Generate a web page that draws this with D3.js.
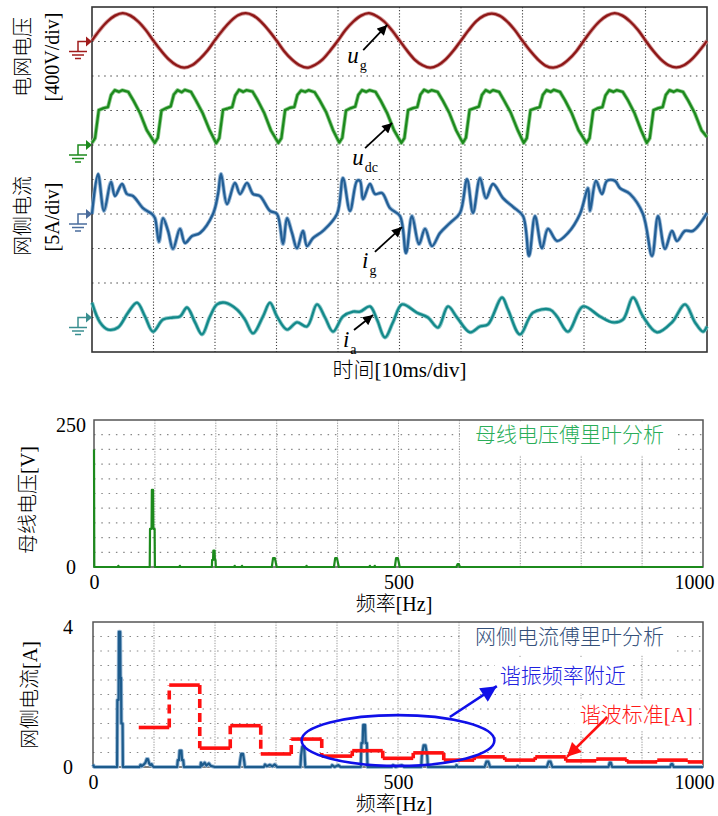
<!DOCTYPE html>
<html>
<head>
<meta charset="utf-8">
<script src="https://cdn.jsdelivr.net/npm/d3@7"></script>
<style>
  body { margin: 0; background: #fff; }
  text { font-family: "Liberation Serif", "Noto Sans CJK SC", serif; }
  .cjk { font-weight: 300; }
</style>
</head>
<body>
<div id="chart"></div>
<script>
// ---------- data ----------
// scope traces: time in ms, value in divisions (relative to each trace's ground marker)
const uGStep = 1.25;
const uG = [
  0.03,0.33,0.58,0.75,0.82,0.75,0.58,0.33,0.02,-0.27,-0.52,-0.69,-0.76,-0.69,-0.51,-0.27,
  0.04,0.33,0.58,0.76,0.82,0.75,0.57,0.32,0.03,-0.28,-0.52,-0.69,-0.76,-0.68,-0.52,-0.26,
  0.03,0.34,0.58,0.75,0.82,0.74,0.58,0.33,0.03,-0.27,-0.53,-0.69,-0.76,-0.69,-0.52,-0.27,
  0.03,0.33,0.59,0.75,0.81,0.75,0.58,0.33,0.02,-0.27,-0.52,-0.70,-0.76,-0.69,-0.52,-0.28,
  0.03,0.33,0.58,0.75,0.82,0.75,0.58,0.34,0.03,-0.27,-0.52,-0.69,-0.75,-0.69,-0.52,-0.27,
  0.02
];

const uDc = [
  [0,0.06],[0.5,0.2],[1.1,1.01],[1.9,1.07],[2.6,1.10],[3.1,1.45],[3.7,1.59],[4.4,1.54],[4.9,1.59],[5.9,1.54],[6.7,1.30],[7.8,0.93],[8.9,0.43],
  [10.2,0.06],[10.7,0.21],[11.3,1.00],[12.1,1.07],[12.8,1.12],[13.3,1.46],[13.9,1.59],[14.6,1.53],[15.1,1.60],[16.1,1.54],[16.9,1.29],[18.0,0.92],[19.1,0.44],
  [20.2,0.05],[20.7,0.2],[21.3,1.02],[22.1,1.06],[22.8,1.10],[23.3,1.44],[23.9,1.60],[24.6,1.54],[25.1,1.59],[26.1,1.55],[26.9,1.31],[28.0,0.93],[29.1,0.42],
  [30.3,0.06],[30.8,0.2],[31.4,1.01],[32.2,1.08],[32.9,1.10],[33.4,1.45],[34.0,1.58],[34.7,1.54],[35.2,1.59],[36.2,1.53],[37.0,1.30],[38.1,0.94],[39.2,0.43],
  [40.2,0.07],[40.7,0.21],[41.3,1.00],[42.1,1.07],[42.8,1.11],[43.3,1.45],[43.9,1.59],[44.6,1.54],[45.1,1.59],[46.1,1.54],[46.9,1.30],[48.0,0.92],[49.1,0.43],
  [50.3,0.06],[50.8,0.2],[51.4,1.01],[52.2,1.07],[52.9,1.10],[53.4,1.46],[54.0,1.60],[54.7,1.54],[55.2,1.59],[56.2,1.54],[57.0,1.30],[58.1,0.93],[59.2,0.43],
  [60.3,0.06],[60.8,0.21],[61.4,1.02],[62.2,1.07],[62.9,1.11],[63.4,1.45],[64.0,1.59],[64.7,1.53],[65.2,1.59],[66.2,1.54],[67.0,1.29],[68.1,0.93],[69.2,0.44],
  [70.2,0.06],[70.7,0.2],[71.3,1.01],[72.1,1.06],[72.8,1.10],[73.3,1.45],[73.9,1.59],[74.6,1.54],[75.1,1.60],[76.1,1.54],[76.9,1.30],[78.0,0.92],[79.1,0.43],
  [80.4,0.06],[80.9,0.2],[81.5,1.00],[82.3,1.07],[83.0,1.10],[83.5,1.44],[84.1,1.59],[84.8,1.54],[85.3,1.59],[86.3,1.54],[87.1,1.31],[88.2,0.93],[89.3,0.42],
  [90.2,0.06],[90.7,0.2],[91.3,1.01],[92.1,1.07],[92.8,1.10],[93.3,1.45],[93.9,1.59],[94.6,1.54],[95.1,1.59],[96.1,1.54],[96.9,1.30],[98.0,0.93],[99.1,0.43],
  [100,0.23]
];

const iG = [
  [0,0],[0.98,1.16],[1.95,0.09],[3.09,0.93],[3.74,0.52],[4.88,0.87],[5.69,0.58],[6.67,0.52],[8.29,0.17],[9.76,0],
  [10.24,-0.12],[10.89,-0.81],[11.54,-0.12],[12.36,-0.49],[13.17,-1.01],[14.31,-0.43],[15.12,-0.84],[16.26,-0.64],[17.56,-0.55],[19.67,0],
  [20.49,0.58],[20.98,1.16],[21.95,0.29],[23.25,0.90],[24.07,0.58],[25.2,0.90],[26.18,0.58],[27.32,0.52],[28.94,0.09],[30.08,0],
  [31.06,-0.87],[31.71,-0.12],[32.52,-0.55],[33.33,-0.99],[34.31,-0.49],[34.96,-0.93],[35.93,-0.70],[37.56,-0.49],[39.84,0],
  [40.81,1.04],[41.95,0.09],[43.09,0.96],[43.58,0.96],[44.07,0.43],[45.2,0.87],[46.02,0.58],[47.15,0.61],[48.46,0.17],
  [50.08,-0.06],[51.06,-1.13],[52.03,-0.06],[53.17,-0.87],[54.15,-0.43],[55.28,-0.93],[56.59,-0.55],[58.21,-0.26],[59.84,0.03],
  [60.98,1.01],[61.95,0.03],[63.09,1.04],[64.07,0.46],[65.2,0.87],[66.83,0.46],[68.5,0.2],[70.08,-0.06],
  [71.06,-1.22],[72.03,-0.06],[73.17,-0.99],[74.15,-0.43],[75.61,-0.78],[77.4,-0.55],[79.35,0],
  [80.65,0.75],[80.98,0.09],[81.95,0.96],[82.93,0.58],[83.74,0.96],[85.04,0.96],[85.85,0.75],[87.48,0.58],[89.59,0],
  [91.06,-1.22],[92.03,-0.06],[93.17,-1.01],[94.31,-0.49],[95.12,-0.78],[96.42,-0.49],[97.72,-0.49],[100,0.03]
];

const iA = [
  [0,0.43],[1.3,-0.14],[2.6,-0.35],[4.23,-0.29],[5.85,0.14],[7.32,0.43],[8.62,0.03],[9.92,-0.41],[11.54,-0.06],[13.17,0],
  [14.31,0.03],[15.45,0.29],[16.75,-0.14],[17.89,-0.49],[19.19,0.03],[20.33,0.38],[21.63,0.43],[23.58,0.23],[24.88,-0.06],[26.18,-0.46],
  [27.8,0.03],[28.94,0.43],[30.08,0.03],[31.71,-0.35],[33.33,-0.14],[34.96,-0.26],[36.59,0.38],[37.89,0],[39.19,-0.41],[40.81,0.03],
  [42.44,0.17],[43.58,0.17],[45.2,0.32],[46.34,-0.06],[47.64,-0.58],[48.94,-0.14],[50.41,0.38],[52.85,0.14],[54.63,0],[56.26,-0.29],
  [57.89,0.32],[59.35,0],[61.46,-0.43],[63.09,-0.26],[64.39,-0.2],[66.67,0.58],[67.64,0.23],[69.59,-0.49],[71.71,0.14],[74.47,0.23],
  [75.61,0.03],[77.4,-0.41],[79.84,0.32],[82.6,0.03],[84.72,-0.14],[86.34,-0.06],[87.97,0.58],[89.59,0.03],[91.87,-0.43],[94.31,-0.14],
  [96.42,0.38],[98.05,-0.14],[99.35,-0.41],[100,-0.26]
];

// DC-bus voltage spectrum: [Hz, V]
const busSpectrum = [
  [0,200],[0.5,0],[39,0],[40,2],[41,0],
  [91.5,0],[92,65],[94.5,65],[95,131],[97,131],[97.5,65],[99.5,65],[100,0],
  [140,0],[141,2],[142,0],
  [193.5,0],[194,12],[195.5,12],[196,28],[198,28],[198.5,12],[199.5,12],[200,0],
  [230,0],[231,2],[232,0],[242,0],[243,2],[244,0],
  [292,0],[294,15],[297,15],[300,0],
  [348,0],[349,2],[350,0],
  [394,0],[396,15],[399,15],[402,0],
  [452,0],[453,2],[454,0],[460,0],[461,2],[462,0],
  [494,0],[496,15],[499,15],[502,0],
  [595,0],[597,5],[599,5],[601,0],
  [1000,0]
];

// grid current spectrum: [Hz, A]
const gridSpectrum = [
  [0,0.07],[2,0],[39.5,0],[40,1.85],[42,1.85],[42.5,3.73],[44.5,3.73],[45,2.46],[46,2.46],[46.5,1.2],[48.5,1.2],[49,0],
  [76,0],[78,0.06],[80,0.02],[84,0.08],[86,0.12],[88,0.22],[90,0.22],[92,0.1],[94,0.05],[96,0.08],[98,0.02],[100,0],
  [138,0],[139,0.19],[141,0.19],[142,0.45],[145,0.45],[146,0.19],[148,0.19],[149,0],
  [176,0],[177,0.12],[179,0.04],[183,0.12],[186,0.04],[190,0.1],[193,0.03],[200,0],
  [240,0],[241,0.15],[243,0.36],[246,0.36],[248,0.15],[249,0],
  [280,0],[282,0.07],[285,0.02],[290,0.06],[294,0.02],[298,0.07],[302,0],
  [340,0],[341,0.3],[343,0.56],[346,0.56],[347,0.3],[348,0],
  [390,0],[392,0.05],[396,0],[402,0.05],[406,0],
  [439,0],[440,0.66],[442,0.66],[443,1.16],[446,1.16],[447,0.66],[449,0.66],[450,0],
  [490,0],[492,0.05],[496,0],[506,0.05],[510,0],
  [538,0],[539,0.3],[542,0.6],[545,0.6],[548,0.3],[549,0],
  [594,0],[596,0.05],[598,0],
  [642,0],[645,0.15],[648,0.15],[651,0],
  [694,0],[696,0.03],[698,0],
  [744,0],[747,0.15],[750,0.15],[753,0],
  [845,0],[847,0.12],[849,0.12],[851,0],
  [946,0],[948,0.08],[950,0.08],[952,0],
  [1000,0]
];

// harmonic current limits (harmonic order, A)
const stdOrder = [2,3,4,5,6,7,8,9,10,11,12,13,14,15,16,17,18,19,20];
const stdLimit = [1.09,2.26,0.52,1.14,0.36,0.77,0.30,0.45,0.24,0.39,0.19,0.28,0.19,0.28,0.17,0.22,0.14,0.19,0.14];

// tick labels
const freqTicks = [0, 500, 1000];
const busTicks = [0, 250];
const curTicks = [0, 4];

// ---------- setup ----------
const w = 718, h = 816;
const svg = d3.select("#chart").append("svg")
  .attr("width", w).attr("height", h);

const defs = svg.append("defs");
function arrowMarker(id, color, len, wid) {
  defs.append("marker")
    .attr("id", id)
    .attr("markerUnits", "userSpaceOnUse")
    .attr("viewBox", "0 0 10 10")
    .attr("refX", 10).attr("refY", 5)
    .attr("markerWidth", len).attr("markerHeight", wid)
    .attr("orient", "auto")
    .append("path").attr("d", "M0,0 L10,5 L0,10 Z").attr("fill", color);
}
arrowMarker("arrBlack", "#000", 11, 10);
arrowMarker("arrBlue", "#1010e8", 18, 16);
arrowMarker("arrRed", "#ff1010", 16, 14);

// ---------- scope panel ----------
const xT = d3.scaleLinear().domain([0, 100]).range([92, 707]);
const yT = d3.scaleLinear().domain([0, 10]).range([352, 7]);

const scope = svg.append("g").attr("id", "scope");

scope.append("g").selectAll("line")
  .data(d3.range(1, 10))
  .enter().append("line")
  .attr("x1", xT(0)).attr("x2", xT(100))
  .attr("y1", d => yT(d)).attr("y2", d => yT(d))
  .attr("stroke", "#444").attr("stroke-width", 1.2)
  .attr("stroke-dasharray", "1.5,4.6");

scope.append("g").selectAll("line")
  .data(d3.range(10, 100, 10))
  .enter().append("line")
  .attr("x1", d => xT(d)).attr("x2", d => xT(d))
  .attr("y1", yT(10)).attr("y2", yT(0))
  .attr("stroke", "#444").attr("stroke-width", 1.1)
  .attr("stroke-dasharray", "1.2,1.9");

scope.append("rect")
  .attr("x", xT(0)).attr("y", yT(10))
  .attr("width", xT(100) - xT(0)).attr("height", yT(0) - yT(10))
  .attr("fill", "none").attr("stroke", "#333").attr("stroke-width", 1.6);

const traces = [
  {data: uG.map((v, i) => [i * uGStep, v]), ref: 9, core: "#8e1717", halo: "#d49a9a", mark: "#a01c1c", curve: d3.curveCatmullRom},
  {data: uDc, ref: 6, core: "#1c8a1c", halo: "#92cc92", mark: "#1c8a1c", curve: d3.curveLinear},
  {data: iG, ref: 4, core: "#235f96", halo: "#98b8d6", mark: "#4a6c9c", curve: d3.curveCatmullRom.alpha(0.5)},
  {data: iA, ref: 1, core: "#13898a", halo: "#8fcaca", mark: "#3a8f90", curve: d3.curveCatmullRom.alpha(0.5)}
];

traces.forEach(tr => {
  const line = d3.line()
    .x(d => xT(d[0]))
    .y(d => yT(tr.ref + d[1]))
    .curve(tr.curve);
  scope.append("path").datum(tr.data)
    .attr("d", line).attr("fill", "none")
    .attr("stroke", tr.halo).attr("stroke-width", 4)
    .attr("stroke-linejoin", "round");
  scope.append("path").datum(tr.data)
    .attr("d", line).attr("fill", "none")
    .attr("stroke", tr.core).attr("stroke-width", 2.3)
    .attr("stroke-linejoin", "round");

  // ground marker
  const gy = yT(tr.ref), gx = xT(0);
  const m = scope.append("g").attr("stroke", tr.mark).attr("fill", tr.mark);
  m.append("path")
    .attr("d", `M${gx - 6},${gy - 5} L${gx},${gy} L${gx - 6},${gy + 5} Z`)
    .attr("stroke", "none");
  m.append("path")
    .attr("d", `M${gx - 6},${gy} H${gx - 14} V${gy + 10}`)
    .attr("fill", "none").attr("stroke-width", 1.5);
  [[10, 9], [13.5, 6], [17, 3]].forEach(([dy, hw]) => {
    m.append("line")
      .attr("x1", gx - 14 - hw).attr("x2", gx - 14 + hw)
      .attr("y1", gy + dy).attr("y2", gy + dy)
      .attr("stroke-width", 1.5);
  });
});

// trace annotations (ms, div)
const traceNotes = [
  {base: "u", sub: "g", at: [41.5, 8.38], from: [44.1, 8.75], to: [48.0, 9.48]},
  {base: "u", sub: "dc", at: [42.3, 5.42], from: [44.4, 5.91], to: [48.8, 6.64]},
  {base: "i", sub: "g", at: [43.9, 2.43], from: [46.0, 2.90], to: [50.4, 3.62]},
  {base: "i", sub: "a", at: [40.8, 0.14], from: [42.6, 0.64], to: [45.7, 1.07]}
];
traceNotes.forEach(n => {
  scope.append("line")
    .attr("x1", xT(n.from[0])).attr("y1", yT(n.from[1]))
    .attr("x2", xT(n.to[0])).attr("y2", yT(n.to[1]))
    .attr("stroke", "#000").attr("stroke-width", 1.8)
    .attr("marker-end", "url(#arrBlack)");
  const t = scope.append("text")
    .attr("x", xT(n.at[0])).attr("y", yT(n.at[1]))
    .attr("font-size", 23).attr("font-style", "italic");
  t.append("tspan").text(n.base);
  t.append("tspan").attr("font-size", 14).attr("font-style", "normal")
    .attr("dy", 7).attr("dx", 1).text(n.sub);
});

function vText(g, x, y, str, size) {
  g.append("text")
    .attr("class", "cjk")
    .attr("transform", `translate(${x},${y}) rotate(-90)`)
    .attr("text-anchor", "middle")
    .attr("dominant-baseline", "central")
    .attr("font-size", size)
    .text(str);
}
vText(scope, 23, 57, "电网电压", 20);
vText(scope, 52, 57, "[400V/div]", 20);
vText(scope, 23, 216, "网侧电流", 20);
vText(scope, 52, 217, "[5A/div]", 20);

scope.append("text")
  .attr("class", "cjk")
  .attr("x", xT(50)).attr("y", 377)
  .attr("text-anchor", "middle").attr("font-size", 21)
  .text("时间[10ms/div]");

// ---------- spectrum panels ----------
function spectrumPanel(opt) {
  const g = svg.append("g");
  const x = d3.scaleLinear().domain([0, 1000]).range(opt.xr);
  const y = d3.scaleLinear().domain([0, opt.ymax]).range(opt.yr);

  g.append("g").selectAll("line")
    .data(d3.range(1, 10).map(k => k * opt.ymax / 10))
    .enter().append("line")
    .attr("x1", x(0)).attr("x2", x(1000))
    .attr("y1", d => y(d)).attr("y2", d => y(d))
    .attr("stroke", "#888").attr("stroke-width", 1.2)
    .attr("stroke-dasharray", "1.5,5.8");

  g.append("g").selectAll("line")
    .data(d3.range(100, 1000, 100))
    .enter().append("line")
    .attr("x1", d => x(d)).attr("x2", d => x(d))
    .attr("y1", y(opt.ymax)).attr("y2", y(0))
    .attr("stroke", "#999").attr("stroke-width", 1)
    .attr("stroke-dasharray", "1.3,1.3");

  // white boxes behind in-plot labels
  opt.boxes.forEach(b => {
    g.append("rect").attr("x", b[0]).attr("y", b[1])
      .attr("width", b[2]).attr("height", b[3]).attr("fill", "#fff");
  });

  g.append("rect")
    .attr("x", x(0)).attr("y", y(opt.ymax))
    .attr("width", x(1000) - x(0)).attr("height", y(0) - y(opt.ymax))
    .attr("fill", "none").attr("stroke", "#555").attr("stroke-width", 1.5);

  // axes (labels only)
  const xa = g.append("g")
    .attr("transform", `translate(0,${y(0)})`)
    .call(d3.axisBottom(x).tickValues(freqTicks).tickSize(0).tickPadding(opt.xpad).tickFormat(d3.format("d")));
  xa.select(".domain").remove();
  xa.selectAll("text").attr("font-size", 20).attr("fill", "#000")
    .attr("font-family", "Liberation Serif")
    .attr("dx", d => d === 1000 ? -9 : 0);

  const ya = g.append("g")
    .attr("transform", `translate(${x(0)},0)`)
    .call(d3.axisLeft(y).tickValues(opt.yticks).tickSize(0).tickFormat(d3.format("d")));
  ya.select(".domain").remove();
  ya.selectAll("text").attr("font-size", 20).attr("fill", "#000")
    .attr("font-family", "Liberation Serif")
    .attr("text-anchor", "middle").attr("x", opt.ylabx)
    .attr("dy", d => d === 0 ? "0.32em" : "0.55em");

  g.append("text")
    .attr("class", "cjk")
    .attr("x", 394).attr("y", opt.xtitleY)
    .attr("text-anchor", "middle").attr("font-size", 20)
    .text("频率[Hz]");
  vText(g, opt.ytitleX, opt.ytitleY, opt.ytitle, 20);

  return {g, x, y};
}

// DC bus voltage
const p2 = spectrumPanel({
  xr: [94, 703], yr: [567, 420], ymax: 250, yticks: busTicks,
  xpad: 8, ylabx: -23, xtitleY: 611, ytitle: "母线电压[V]", ytitleX: 28, ytitleY: 500,
  boxes: [[460, 422, 213, 33]]
});
p2.g.append("path").datum(busSpectrum)
  .attr("d", d3.line().x(d => p2.x(d[0])).y(d => p2.y(d[1])))
  .attr("fill", "none").attr("stroke", "#1c8a1c").attr("stroke-width", 2.2)
  .attr("stroke-linejoin", "round");
p2.g.append("text")
  .attr("class", "cjk")
  .attr("x", 475).attr("y", p2.y(225))
  .attr("dominant-baseline", "central")
  .attr("font-size", 21).attr("fill", "#2aae5a")
  .text("母线电压傅里叶分析");

// grid current
const p3 = spectrumPanel({
  xr: [93, 703], yr: [767, 622], ymax: 4, yticks: curTicks,
  xpad: 8, ylabx: -25, xtitleY: 811, ytitle: "网侧电流[A]", ytitleX: 30, ytitleY: 695,
  boxes: [[460, 623, 212, 32], [495, 657, 138, 36], [575, 699, 124, 32]]
});
const specLine = d3.line().x(d => p3.x(d[0])).y(d => p3.y(d[1]));
p3.g.append("path").datum(gridSpectrum)
  .attr("d", specLine).attr("fill", "none")
  .attr("stroke", "#9bbad6").attr("stroke-width", 4).attr("stroke-linejoin", "round");
p3.g.append("path").datum(gridSpectrum)
  .attr("d", specLine).attr("fill", "none")
  .attr("stroke", "#1d5b8c").attr("stroke-width", 2.2).attr("stroke-linejoin", "round");

// harmonic limit staircase
const steps = stdOrder.map((hh, i) => ({
  f0: Math.max(50 * hh - 25, 0), f1: Math.min(50 * hh + 25, 1000), v: stdLimit[i]
}));
p3.g.append("g").selectAll("line.hstep")
  .data(steps).enter().append("line")
  .attr("x1", d => p3.x(d.f0)).attr("x2", d => p3.x(d.f1))
  .attr("y1", d => p3.y(d.v)).attr("y2", d => p3.y(d.v))
  .attr("stroke", "#ff1010").attr("stroke-width", 3.6);
p3.g.append("g").selectAll("line.vstep")
  .data(d3.pairs(steps)).enter().append("line")
  .attr("x1", d => p3.x(d[0].f1)).attr("x2", d => p3.x(d[0].f1))
  .attr("y1", d => p3.y(d[0].v)).attr("y2", d => p3.y(d[1].v))
  .attr("stroke", "#ff1010").attr("stroke-width", 3.6)
  .attr("stroke-dasharray", "9,5");

// resonance region
const resBand = [342, 658], resAmp = [0.03, 1.43];
p3.g.append("ellipse")
  .attr("cx", p3.x((resBand[0] + resBand[1]) / 2))
  .attr("cy", p3.y((resAmp[0] + resAmp[1]) / 2))
  .attr("rx", (p3.x(resBand[1]) - p3.x(resBand[0])) / 2)
  .attr("ry", (p3.y(resAmp[0]) - p3.y(resAmp[1])) / 2)
  .attr("fill", "none").attr("stroke", "#1010e8").attr("stroke-width", 2.6);

p3.g.append("line")
  .attr("x1", p3.x(585)).attr("y1", p3.y(1.38))
  .attr("x2", p3.x(662)).attr("y2", p3.y(2.23))
  .attr("stroke", "#1010e8").attr("stroke-width", 2.6)
  .attr("marker-end", "url(#arrBlue)");
p3.g.append("line")
  .attr("x1", p3.x(843)).attr("y1", p3.y(1.38))
  .attr("x2", p3.x(777)).attr("y2", p3.y(0.28))
  .attr("stroke", "#ff1010").attr("stroke-width", 2.6)
  .attr("marker-end", "url(#arrRed)");

p3.g.append("text")
  .attr("class", "cjk")
  .attr("x", 475).attr("y", p3.y(3.6))
  .attr("dominant-baseline", "central")
  .attr("font-size", 21).attr("fill", "#34507a")
  .text("网侧电流傅里叶分析");
p3.g.append("text")
  .attr("class", "cjk")
  .attr("x", p3.x(667)).attr("y", p3.y(2.5))
  .attr("dominant-baseline", "central")
  .attr("font-size", 21).attr("fill", "#2020e0")
  .text("谐振频率附近");
p3.g.append("text")
  .attr("class", "cjk")
  .attr("x", p3.x(798)).attr("y", p3.y(1.43))
  .attr("dominant-baseline", "central")
  .attr("font-size", 21).attr("fill", "#ff1a1a")
  .text("谐波标准[A]");
</script>
</body>
</html>
